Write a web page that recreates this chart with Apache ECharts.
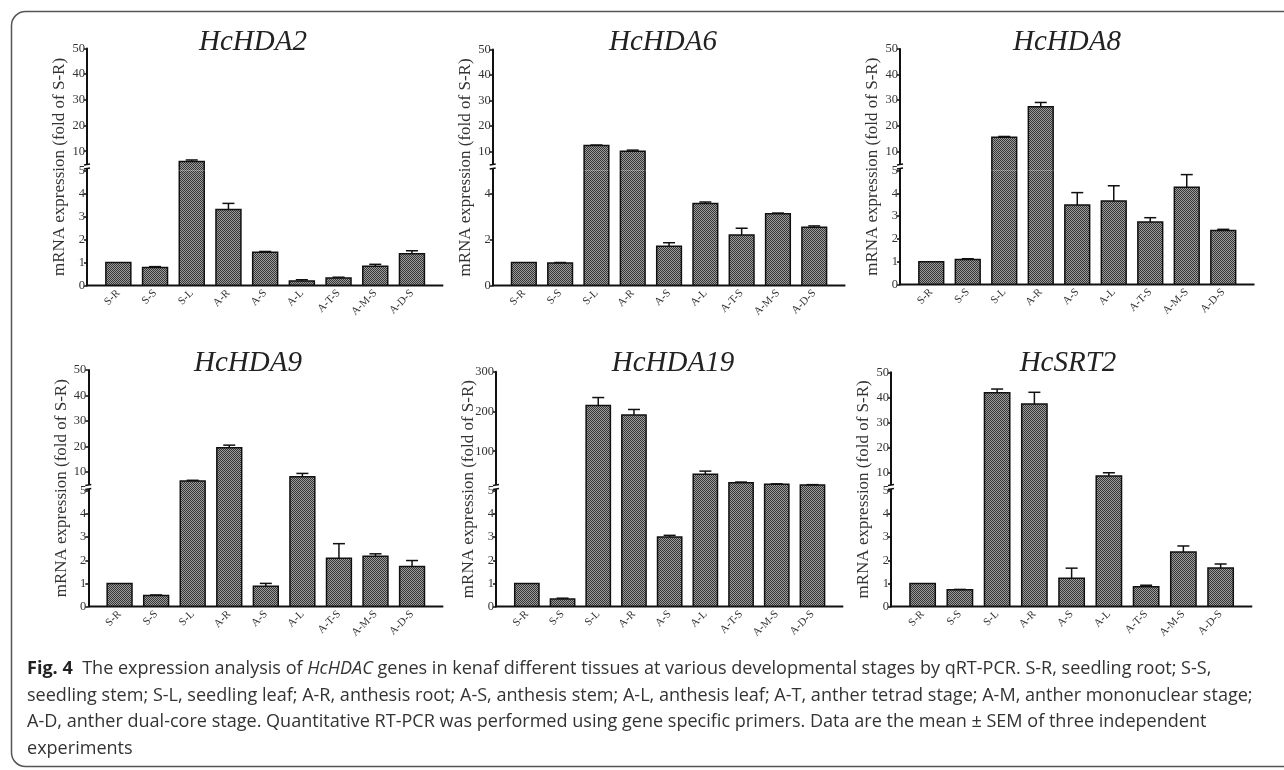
<!DOCTYPE html>
<html>
<head>
<meta charset="utf-8">
<script src="https://cdn.jsdelivr.net/npm/echarts@6.0.0/dist/echarts.min.js"></script>
<style>
  html, body { margin: 0; padding: 0; background: #fff; }
  #main { width: 1284px; height: 770px; }
</style>
</head>
<body>
<div id="main"></div>
<script>
// tissues / stages
var categories = ['S-R', 'S-S', 'S-L', 'A-R', 'A-S', 'A-L', 'A-T-S', 'A-M-S', 'A-D-S'];

// mean (fold of S-R) and SEM
var hda2Mean = [1.0, 0.78, 6.0, 3.3, 1.45, 0.2, 0.33, 0.84, 1.38];
var hda2Sem = [0, 0.04, 0.6, 0.27, 0.03, 0.05, 0.03, 0.08, 0.13];
var hda6Mean = [1.0, 0.98, 12.3, 10.1, 1.71, 3.57, 2.2, 3.12, 2.53];
var hda6Sem = [0, 0.02, 0.2, 0.4, 0.15, 0.06, 0.29, 0.03, 0.06];
var hda8Mean = [1.0, 1.1, 15.5, 27.4, 3.49, 3.66, 2.74, 4.26, 2.37];
var hda8Sem = [0, 0.03, 0.3, 1.7, 0.54, 0.67, 0.19, 0.56, 0.05];
var hda9Mean = [1.0, 0.48, 6.4, 19.5, 0.88, 8.1, 2.09, 2.18, 1.73];
var hda9Sem = [0, 0.02, 0.3, 1.0, 0.12, 1.3, 0.63, 0.1, 0.26];
var hda19Mean = [1.0, 0.32, 215, 191, 3.01, 42, 21, 17, 15];
var hda19Sem = [0, 0.04, 20, 14, 0.07, 8, 1.5, 1, 1];
var srt2Mean = [1.0, 0.72, 41.8, 37.3, 1.22, 8.5, 0.85, 2.36, 1.67];
var srt2Sem = [0, 0.02, 1.5, 4.7, 0.44, 1.3, 0.07, 0.26, 0.17];

// tick labels of the broken y axes (lower part / upper part)
var lowTicks = [0, 1, 2, 3, 4, 5];
var lowTicksEven = [0, 2, 4];
var highTicks = [10, 20, 30, 40, 50];
var highTicks19 = [100, 200, 300];

var yName = 'mRNA expression (fold of S-R)';
var captionLines = [
  '{b|Fig. 4}  The expression analysis of {i|HcHDAC} genes in kenaf different tissues at various developmental stages by qRT-PCR. S-R, seedling root; S-S,',
  'seedling stem; S-L, seedling leaf; A-R, anthesis root; A-S, anthesis stem; A-L, anthesis leaf; A-T, anther tetrad stage; A-M, anther mononuclear stage;',
  'A-D, anther dual-core stage. Quantitative RT-PCR was performed using gene specific primers. Data are the mean \u00b1 SEM of three independent',
  'experiments'
];

// panel layout (pixels)
var panels = [
  { title: 'HcHDA2', mean: hda2Mean, sem: hda2Sem, low: lowTicks, high: highTicks, lo: 2.5, max: 50, ax: 87, bw: 36.7, y0: 285.5, y5: 170.5, yTop: 48.5, tx: 253, ty: 42 },
  { title: 'HcHDA6', mean: hda6Mean, sem: hda6Sem, low: lowTicksEven, high: highTicks, lo: 2.5, max: 50, ax: 492.7, bw: 36.3, y0: 285.5, y5: 170.5, yTop: 49.5, tx: 663, ty: 42 },
  { title: 'HcHDA8', mean: hda8Mean, sem: hda8Sem, low: lowTicks, high: highTicks, lo: 2.5, max: 50, ax: 900, bw: 36.5, y0: 284.5, y5: 170.5, yTop: 49, tx: 1067, ty: 42 },
  { title: 'HcHDA9', mean: hda9Mean, sem: hda9Sem, low: lowTicks, high: highTicks, lo: 2.5, max: 50, ax: 88.3, bw: 36.56, y0: 606.5, y5: 491, yTop: 370, tx: 248, ty: 363 },
  { title: 'HcHDA19', mean: hda19Mean, sem: hda19Sem, low: lowTicks, high: highTicks19, lo: 0, max: 300, ax: 496, bw: 35.7, y0: 606.5, y5: 491, yTop: 371.7, tx: 673, ty: 363 },
  { title: 'HcSRT2', mean: srt2Mean, sem: srt2Sem, low: lowTicks, high: highTicks, lo: 2.5, max: 50, ax: 891, bw: 37.25, y0: 606.5, y5: 491, yTop: 372.3, tx: 1068, ty: 363 }
];
var pad = 13;
var serif = '"Liberation Serif", "Times New Roman", serif';

// crosshatch fill of the bars
var hatchCanvas = document.createElement('canvas');
hatchCanvas.width = 2;
hatchCanvas.height = 2;
var hg = hatchCanvas.getContext('2d');
hg.fillStyle = '#9c9c9c';
hg.fillRect(0, 0, 2, 2);
hg.fillStyle = '#363636';
hg.fillRect(0, 0, 1, 1);
hg.fillRect(1, 1, 1, 1);
var hatch = { image: hatchCanvas, repeat: 'repeat' };

function seg(x1, y1, x2, y2, w) {
  return { type: 'line', shape: { x1: x1, y1: y1, x2: x2, y2: y2 }, style: { stroke: '#111', lineWidth: w || 1.5 } };
}

// bar + outline + one-sided error bar, clipped to its own grid
function renderBar(params, api) {
  var cs = params.coordSys;
  var idx = api.value(0), v = api.value(1), e = api.value(2);
  var c = api.coord([idx, v]);
  var w = api.size([1, 0])[0] * 0.68;
  var x0 = c[0] - w / 2, x1 = c[0] + w / 2;
  var bottom = cs.y + cs.height;
  var clipped = c[1] < cs.y;
  var top = clipped ? cs.y : c[1];
  var kids = [{ type: 'rect', shape: { x: x0, y: top, width: w, height: bottom - top }, style: { fill: hatch } }];
  if (clipped) {
    kids.push(seg(x0, bottom, x0, top), seg(x1, bottom, x1, top));
  } else {
    kids.push({ type: 'polyline', shape: { points: [[x0, bottom], [x0, top], [x1, top], [x1, bottom]] },
      style: { fill: null, stroke: '#111', lineWidth: 1.5 } });
    if (e > 0) {
      var t = api.coord([idx, v + e])[1];
      kids.push(seg(c[0], top, c[0], t), seg(c[0] - 6, t, c[0] + 6, t));
    }
  }
  return { type: 'group', children: kids };
}

var grids = [], xAxes = [], yAxes = [], series = [], graphics = [];
var tickLabel = { fontFamily: serif, fontSize: 12.5, color: '#333', margin: 2 };

panels.forEach(function (p) {
  var left = p.ax + pad, width = p.bw * categories.length;
  var gLow = grids.length, gHigh = gLow + 1;
  grids.push({ left: left, top: p.y5, width: width, height: p.y0 - p.y5, outerBoundsMode: 'none' });
  grids.push({ left: left, top: p.yTop, width: width, height: p.y5 - p.yTop, outerBoundsMode: 'none' });

  xAxes.push({
    type: 'category', gridIndex: gLow, data: categories,
    axisLine: { show: false },
    axisTick: { alignWithLabel: true, length: 3, lineStyle: { color: '#111', width: 1.5 } },
    axisLabel: { rotate: 45, fontFamily: serif, fontSize: 11, color: '#333', margin: 6, interval: 0 }
  });
  xAxes.push({ type: 'category', gridIndex: gHigh, data: categories, show: false });

  yAxes.push({
    type: 'value', gridIndex: gLow, min: 0, max: 5, offset: pad,
    splitLine: { show: false },
    axisLine: { show: true, lineStyle: { color: '#111', width: 2 } },
    axisTick: { show: true, length: 3, customValues: p.low, lineStyle: { color: '#111', width: 1.5 } },
    axisLabel: Object.assign({ customValues: p.low }, tickLabel)
  });
  yAxes.push({
    type: 'value', gridIndex: gHigh, min: p.lo, max: p.max, offset: pad,
    splitLine: { show: false },
    axisLine: { show: true, lineStyle: { color: '#111', width: 2 } },
    axisTick: { show: true, length: 3, customValues: p.high, lineStyle: { color: '#111', width: 1.5 } },
    axisLabel: Object.assign({ customValues: p.high }, tickLabel)
  });

  var rows = p.mean.map(function (v, i) { return [i, v, p.sem[i]]; });
  series.push({ type: 'custom', xAxisIndex: gLow, yAxisIndex: gLow, renderItem: renderBar, data: rows, clip: false });
  series.push({ type: 'custom', xAxisIndex: gHigh, yAxisIndex: gHigh, renderItem: renderBar, clip: false,
    data: rows.filter(function (r) { return r[1] > 5; }) });

  // x axis line runs from the y axis past the last bar
  graphics.push({ type: 'line', z: 50, shape: { x1: p.ax, y1: p.y0, x2: left + width + pad, y2: p.y0 },
    style: { stroke: '#111', lineWidth: 2 } });
  // axis break
  graphics.push({ type: 'rect', z: 60, shape: { x: p.ax - 2, y: p.y5 - 6, width: 4, height: 4 }, style: { fill: '#fff' } });
  graphics.push({ type: 'line', z: 61, shape: { x1: p.ax - 3, y1: p.y5 - 1.5, x2: p.ax + 3, y2: p.y5 - 2.5 }, style: { stroke: '#111', lineWidth: 1.5 } });
  graphics.push({ type: 'line', z: 61, shape: { x1: p.ax - 3, y1: p.y5 - 5.5, x2: p.ax + 3, y2: p.y5 - 6.5 }, style: { stroke: '#111', lineWidth: 1.5 } });
  // title and y name
  graphics.push({ type: 'text', z: 60, style: { x: p.tx, y: p.ty, text: p.title, align: 'center', verticalAlign: 'middle',
    fontFamily: serif, fontStyle: 'italic', fontSize: 29, fill: '#222' } });
  graphics.push({ type: 'text', z: 60, x: p.ax - 27, y: (p.y0 + p.yTop) / 2, rotation: Math.PI / 2,
    style: { x: 0, y: 0, text: yName, align: 'center', verticalAlign: 'middle', fontFamily: serif, fontSize: 17, fill: '#333' } });
});

// caption, sized so the second line fills the frame width
var meas = document.createElement('canvas').getContext('2d');
meas.font = '15px "Open Sans"';
var capSize = 15 * 1226 / meas.measureText(captionLines[1]).width;
var capY = [669, 695.5, 722, 748.5];
captionLines.forEach(function (t, i) {
  graphics.push({ type: 'text', z: 60, style: {
    x: 27, y: capY[i], text: t, verticalAlign: 'middle', fontFamily: '"Open Sans"', fontSize: capSize, fill: '#333',
    rich: {
      b: { fontFamily: '"Open Sans"', fontSize: capSize, fontWeight: 'bold', fill: '#222' },
      i: { fontFamily: '"Open Sans"', fontSize: capSize, fontStyle: 'italic', fill: '#333' }
    }
  } });
});

// figure frame
graphics.push({ type: 'rect', z: 40, shape: { x: 11.5, y: 11.5, width: 1300, height: 755, r: [14, 0, 0, 14] },
  style: { fill: null, stroke: '#555', lineWidth: 1.5 } });

var chart = echarts.init(document.getElementById('main'));
chart.setOption({
  animation: false,
  backgroundColor: '#fff',
  grid: grids,
  xAxis: xAxes,
  yAxis: yAxes,
  series: series,
  graphic: graphics
});
</script>
</body>
</html>
